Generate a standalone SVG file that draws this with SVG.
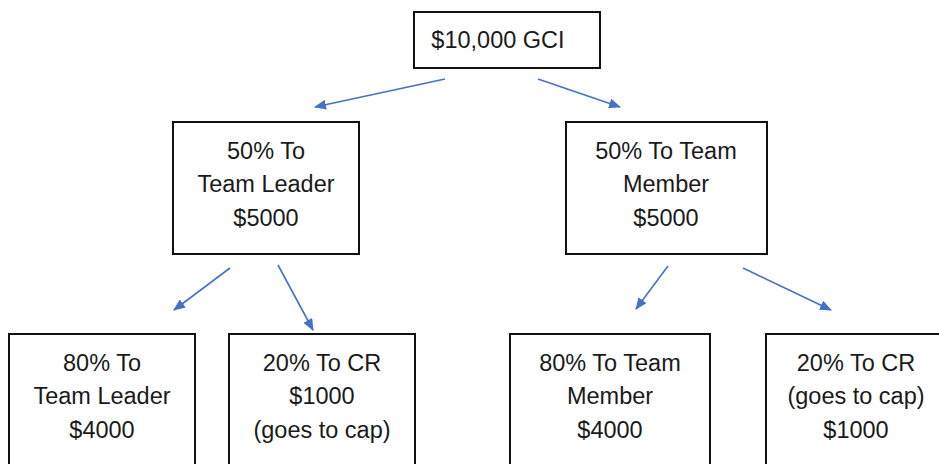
<svg xmlns="http://www.w3.org/2000/svg" width="939" height="464" viewBox="0 0 939 464">
<style>
.box{fill:#fff;stroke:#111;stroke-width:2}
.t{font-family:"Liberation Sans",Arial,sans-serif;font-size:23.5px;fill:#1a1a1a;text-anchor:middle}
.c{stroke:#4472C4;stroke-width:1.6;fill:none;marker-end:url(#ah)}
</style>
<defs>
<marker id="ah" markerUnits="userSpaceOnUse" markerWidth="12" markerHeight="10" refX="11" refY="5" orient="auto">
<path d="M0,0 L12,5 L0,10 z" fill="#4472C4"/>
</marker>
</defs>
<rect width="939" height="464" fill="#fff"/>
<g id="connectors">
<line class="c" x1="445" y1="79" x2="315" y2="107"/>
<line class="c" x1="538" y1="79" x2="620" y2="107"/>
<line class="c" x1="230" y1="268" x2="174" y2="310"/>
<line class="c" x1="278" y1="265" x2="313" y2="330"/>
<line class="c" x1="668" y1="266" x2="636" y2="309"/>
<line class="c" x1="743" y1="268" x2="831" y2="310"/>
</g>
<g id="gci">
<rect class="box" x="414" y="12" width="186" height="56"/>
<text class="t" x="498" y="48">$10,000 GCI</text>
</g>
<g id="leader50">
<rect class="box" x="173" y="122" width="186" height="132"/>
<text class="t" x="266" y="159">50% To</text>
<text class="t" x="266" y="192">Team Leader</text>
<text class="t" x="266" y="226">$5000</text>
</g>
<g id="member50">
<rect class="box" x="566" y="122" width="201" height="132"/>
<text class="t" x="666" y="159">50% To Team</text>
<text class="t" x="666" y="192">Member</text>
<text class="t" x="666" y="226">$5000</text>
</g>
<g id="leader80">
<rect class="box" x="9" y="334" width="186" height="140"/>
<text class="t" x="102" y="371">80% To</text>
<text class="t" x="102" y="404">Team Leader</text>
<text class="t" x="102" y="438">$4000</text>
</g>
<g id="cr20left">
<rect class="box" x="229" y="334" width="186" height="140"/>
<text class="t" x="322" y="371">20% To CR</text>
<text class="t" x="322" y="404">$1000</text>
<text class="t" x="322" y="438">(goes to cap)</text>
</g>
<g id="member80">
<rect class="box" x="510" y="334" width="200" height="140"/>
<text class="t" x="610" y="371">80% To Team</text>
<text class="t" x="610" y="404">Member</text>
<text class="t" x="610" y="438">$4000</text>
</g>
<g id="cr20right">
<rect class="box" x="766" y="334" width="180" height="140"/>
<text class="t" x="856" y="371">20% To CR</text>
<text class="t" x="856" y="404">(goes to cap)</text>
<text class="t" x="856" y="438">$1000</text>
</g>
</svg>
